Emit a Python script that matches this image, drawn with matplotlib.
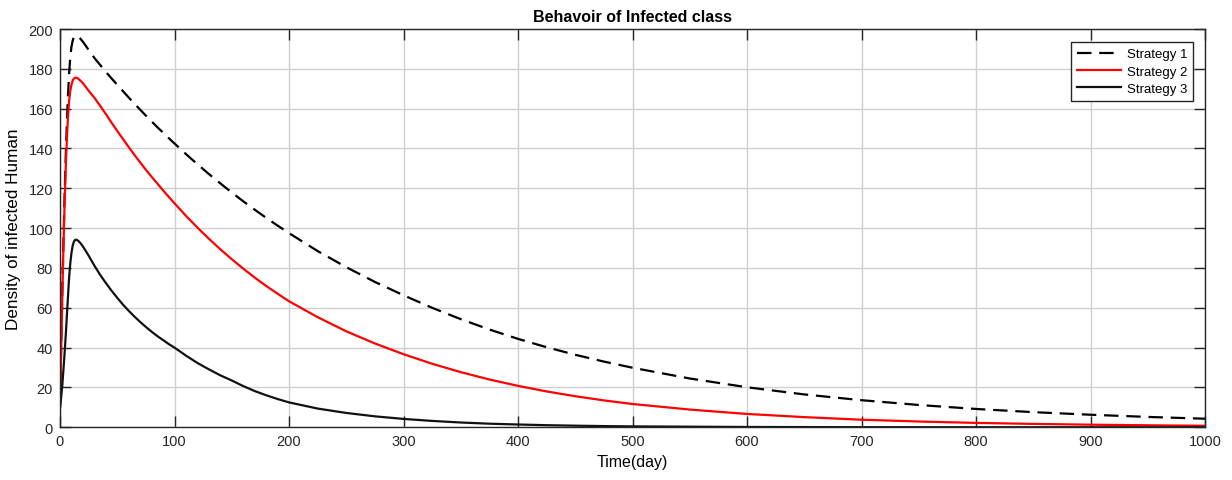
import numpy as np
import matplotlib.pyplot as plt

plt.rcParams["font.family"] = ["Liberation Sans", "DejaVu Sans"]

# ---------- data ----------
t_s1 = [0, 1, 2, 3, 4, 5, 6, 7, 8, 9, 10, 11, 12, 13, 14, 15, 16, 18, 20, 22, 25,
        30, 35, 40, 45, 50, 55, 60, 65, 70, 75, 80, 85, 90, 95, 100,
        110, 120, 130, 140, 150, 160, 170, 180, 190, 200,
        225, 250, 275, 300, 325, 350, 375, 400, 425, 450, 475, 500,
        550, 600, 650, 700, 750, 800, 850, 900, 950, 1000]
strategy1 = [10, 40, 68, 93, 116, 136, 153, 167, 178, 186, 191, 194, 195.8, 196.5,
             196.6, 196.4, 196, 195, 193.6, 192, 189.5,
             185.5, 182, 178.5, 175.2, 172, 168.8, 165.6, 162.5, 159.5, 156.5,
             153.6, 150.7, 148, 145.2, 142.5,
             137.2, 132.1, 127.2, 122.5, 117.9, 113.5, 109.3, 105.2, 101.3, 97.5,
             88.5, 80.4, 73.0, 66.3, 60.0, 54.3, 49.1, 44.4, 40.2, 36.4, 33.0, 29.9,
             24.5, 20.1, 16.5, 13.6, 11.2, 9.2, 7.6, 6.3, 5.2, 4.3]

t_s2 = [0, 1, 2, 3, 4, 5, 6, 7, 8, 9, 10, 11, 12, 13, 14, 15, 16, 18, 20, 22, 25,
        30, 35, 40, 45, 50, 55, 60, 65, 70, 75, 80, 85, 90, 95, 100,
        110, 120, 130, 140, 150, 160, 170, 180, 190, 200,
        225, 250, 275, 300, 325, 350, 375, 400, 425, 450, 475, 500,
        550, 600, 650, 700, 750, 800, 850, 900, 950, 1000]
strategy2 = [10, 38, 65, 90, 112, 130, 145, 156, 164, 169, 172, 174, 175, 175.5,
             175.6, 175.4, 175, 174, 172.8, 171.3, 169,
             165.5, 161.5, 157.3, 153, 148.8, 144.8, 140.7, 136.8, 133, 129.3,
             125.8, 122.4, 119, 115.7, 112.5,
             106.2, 100.3, 94.7, 89.4, 84.4, 79.7, 75.2, 71.0, 67.1, 63.3,
             55.3, 48.2, 42.1, 36.7, 31.9, 27.7, 24.0, 20.8, 18.0, 15.6, 13.5, 11.7,
             8.9, 6.7, 5.1, 3.8, 2.9, 2.2, 1.7, 1.3, 1.0, 0.75]

t_s3 = [0, 1, 2, 3, 4, 5, 6, 7, 8, 9, 10, 11, 12, 13, 14, 15, 16, 18, 20, 22, 25,
        30, 35, 40, 45, 50, 55, 60, 65, 70, 75, 80, 85, 90, 95, 100,
        110, 120, 130, 140, 150, 160, 170, 180, 190, 200,
        225, 250, 275, 300, 325, 350, 375, 400, 425, 450, 475, 500,
        600, 700, 800, 900, 1000]
strategy3 = [10, 15, 21, 29, 37, 46, 56, 66, 75.5, 82.5, 87.5, 91, 93, 94, 94.2,
             94, 93.6, 92.4, 90.8, 89, 86.2,
             81.2, 76.6, 72.5, 68.6, 65, 61.6, 58.5, 55.6, 52.9, 50.4,
             48, 45.8, 43.8, 41.8, 40,
             36.0, 32.3, 29.1, 26.1, 23.5, 20.7, 18.2, 16.1, 14.2, 12.5,
             9.4, 7.2, 5.5, 4.2, 3.2, 2.4, 1.8, 1.4, 1.05, 0.8, 0.6, 0.45,
             0.15, 0.05, 0.02, 0.01, 0]

xticks = np.arange(0, 1001, 100)
yticks = np.arange(0, 201, 20)

# ---------- figure ----------
fig = plt.figure(figsize=(12.32, 4.81), dpi=100)
ax = fig.add_axes([0.0487, 0.1096, 0.9294, 0.828])

ax.plot(t_s1, strategy1, color="black", lw=1.6, ls=(0, (6.5, 3.5)), label="Strategy 1")
ax.plot(t_s2, strategy2, color="red", lw=1.6, label="Strategy 2")
ax.plot(t_s3, strategy3, color="#111111", lw=1.6, label="Strategy 3")

ax.set_xlim(0, 1000)
ax.set_ylim(0, 200)
ax.set_xticks(xticks)
ax.set_yticks(yticks)
ax.grid(True, color="#d0d0d0", lw=1.0)
ax.set_axisbelow(True)
ax.tick_params(direction="in", length=8, width=1, top=True, right=True,
               labelsize=10.5, colors="#262626", pad=5)
for sp in ax.spines.values():
    sp.set_color("#262626")
    sp.set_linewidth(1.0)

ax.set_title("Behavoir of Infected class", fontsize=11.5, fontweight="bold", pad=6)
ax.set_xlabel("Time(day)", fontsize=11.5, labelpad=4)
ax.set_ylabel("Density of infected Human", fontsize=12.3, labelpad=5)

leg = ax.legend(loc="upper right", bbox_to_anchor=(0.9895, 0.967), fontsize=9.5,
                fancybox=False, framealpha=1, edgecolor="#262626",
                handlelength=3.3, borderpad=0.45, labelspacing=0.38,
                handletextpad=0.45, borderaxespad=0)
leg.get_frame().set_linewidth(1.0)

fig.savefig("out.png", dpi=100, facecolor="white")
